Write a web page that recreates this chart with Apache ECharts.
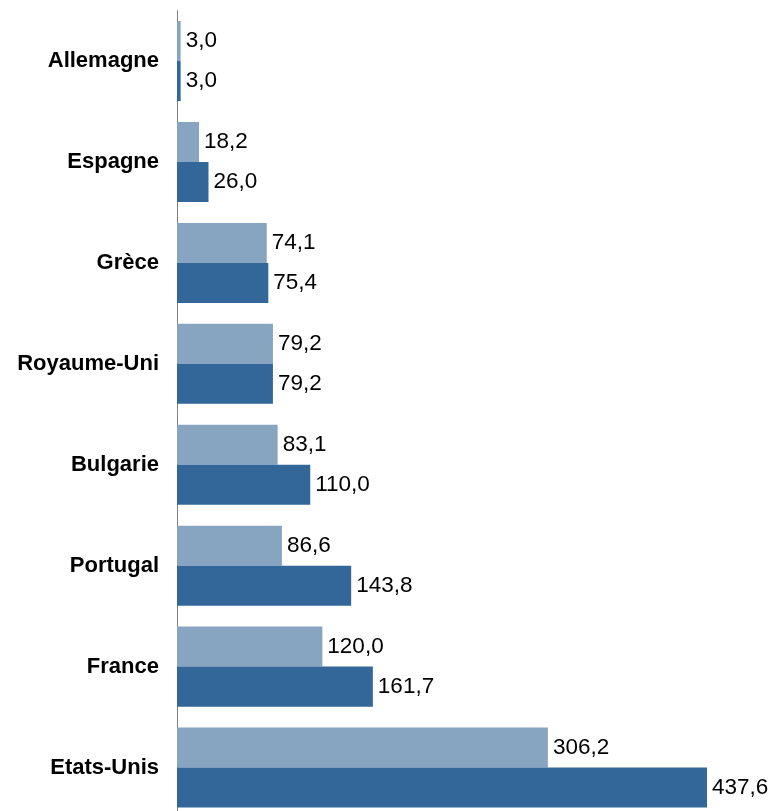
<!DOCTYPE html>
<html>
<head>
<meta charset="utf-8">
<script src="https://cdn.jsdelivr.net/npm/echarts@6/dist/echarts.min.js"></script>
<style>
  html, body { margin: 0; padding: 0; background: #fff; overflow: hidden; }
  /* taller than the window: the last band runs past the bottom edge, as in the original */
  #chart { width: 774px; height: 818px; }
</style>
</head>
<body>
<div id="chart"></div>
<script>
// categories top to bottom
const pays = ['Allemagne', 'Espagne', 'Grèce', 'Royaume-Uni', 'Bulgarie', 'Portugal', 'France', 'Etats-Unis']
// light (upper) bars
const serieClaire = [3.0, 18.2, 74.1, 79.2, 83.1, 86.6, 120.0, 306.2]
// dark (lower) bars
const serieFoncee = [3.0, 26.0, 75.4, 79.2, 110.0, 143.8, 161.7, 437.6]

const fmt = function(p) {
  return p.value.toFixed(1).replace('.', ',')
}

const labelStyle = {
  show: true,
  position: 'right',
  distance: 5,
  formatter: fmt,
  fontFamily: 'Liberation Sans, Arial, sans-serif',
  fontSize: 22.5,
  color: '#000'
}

const myChart = echarts.init(document.getElementById('chart'))
myChart.setOption({
  animation: false,
  grid: {
    left: 177,
    top: 10.6,
    width: 593.5,
    bottom: 0
  },
  xAxis: {
    type: 'value',
    min: 0,
    max: 490,
    show: false
  },
  yAxis: {
    type: 'category',
    inverse: true,
    data: pays,
    axisLine: { lineStyle: { color: '#808080', width: 1 } },
    axisTick: { show: false },
    axisLabel: {
      fontFamily: 'Liberation Sans, Arial, sans-serif',
      fontWeight: 'bold',
      fontSize: 22,
      color: '#000',
      margin: 18
    }
  },
  series: [
    {
      name: 'clair',
      type: 'bar',
      data: serieClaire,
      barGap: '0%',
      barCategoryGap: '20.7%',
      itemStyle: { color: '#87A4C1' },
      label: labelStyle
    },
    {
      name: 'fonce',
      type: 'bar',
      data: serieFoncee,
      barGap: '0%',
      barCategoryGap: '20.7%',
      itemStyle: { color: '#336699' },
      label: labelStyle
    }
  ]
})
</script>
</body>
</html>
